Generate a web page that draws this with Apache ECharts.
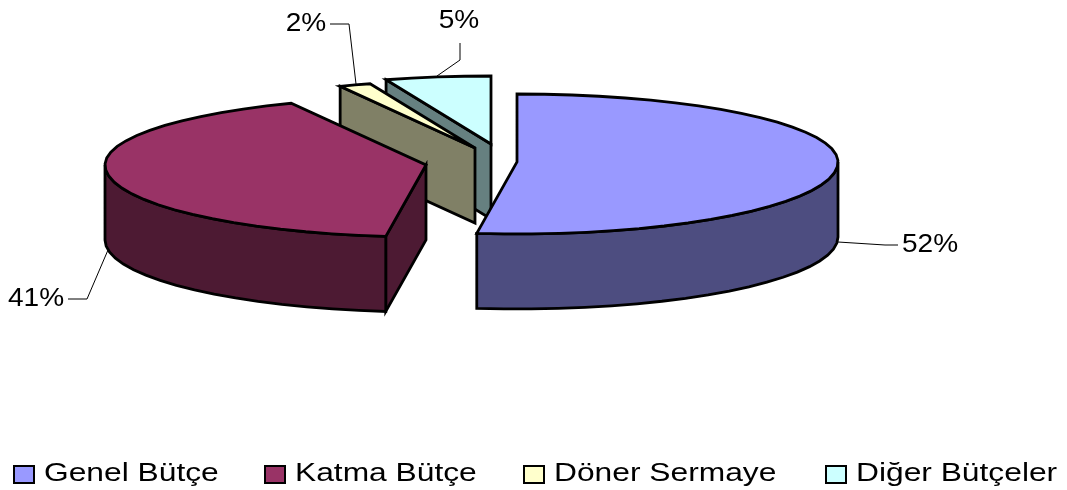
<!DOCTYPE html>
<html><head><meta charset="utf-8">
<style>html,body{margin:0;padding:0;background:#fff}#c{width:1067px;height:490px}</style>
<script src="https://cdn.jsdelivr.net/npm/echarts@6/dist/echarts.min.js"></script>
</head><body><div id="c"></div>
<script>
const categories = ['Genel Bütçe', 'Katma Bütçe', 'Döner Sermaye', 'Diğer Bütçeler'];
const values = [52, 41.1, 1.6, 5.3];
const labels = ['52%', '41%', '2%', '5%'];
const topColors = ['#9999FF', '#993366', '#FFFFCC', '#CCFFFF'];
const sideColors = ['#4D4D80', '#4D1A33', '#808066', '#668080'];
const centersX = [517, 426, 475, 491];
const centersY = [162, 165, 148, 144];
const legendLeft = [13, 264, 523, 825];
const labelPos = [[930, 245], [36, 299], [306, 24], [459, 21]];
const leaders = [
  [[838, 242], [885, 245], [898, 245]],
  [[108, 250], [87, 299], [68, 299]],
  [[356, 84], [349, 24], [330, 24]],
  [[437, 76], [460, 60], [460, 43]]
];
const RX = 321, RY_BACK = 68, RY_FRONT = 72, DEPTH = 75;
const total = values.reduce((a, b) => a + b, 0);
const rim = (cx, cy, deg) => {
  const r = deg * Math.PI / 180, c = Math.cos(r);
  return [cx + RX * Math.sin(r), cy - (c > 0 ? RY_BACK : RY_FRONT) * c];
};
const down = p => [p[0], p[1] + DEPTH];
const stroke = { stroke: '#000', lineWidth: 2.8, lineJoin: 'miter' };

// the reference's text is stretched sideways: widen the glyphs when text is painted
const nativeFillText = CanvasRenderingContext2D.prototype.fillText;
CanvasRenderingContext2D.prototype.fillText = function (text, x, y) {
  const k = this.font.indexOf('25.5px') === 0 ? 1.1 : 1.27;
  this.save();
  this.translate(x, y);
  this.scale(k, 1);
  nativeFillText.call(this, text, 0, 0);
  this.restore();
};

function arcPoints(cx, cy, a0, a1) {
  const pts = [];
  const n = Math.max(2, Math.ceil((a1 - a0) / 5));
  for (let i = 0; i <= n; i++) pts.push(rim(cx, cy, a0 + (a1 - a0) * i / n));
  return pts;
}

function sliceChildren(i) {
  const a0 = values.slice(0, i).reduce((a, b) => a + b, 0) / total * 360;
  const a1 = a0 + values[i] / total * 360;
  const cx = centersX[i], cy = centersY[i];
  const c = [cx, cy];
  const out = [];
  const poly = (points, fill) => out.push({ type: 'polygon', shape: { points }, style: { fill, ...stroke } });
  // flat cut faces that look towards the viewer
  if (a0 > 180) {
    const e = rim(cx, cy, a0);
    poly([c, e, down(e), down(c)], sideColors[i]);
  }
  if (a1 < 180) {
    const e = rim(cx, cy, a1);
    poly([c, e, down(e), down(c)], sideColors[i]);
  }
  // curved outer wall
  const w0 = Math.max(a0, 90), w1 = Math.min(a1, 270);
  if (w1 > w0) {
    const arc = arcPoints(cx, cy, w0, w1);
    poly(arc.concat(arc.map(down).reverse()), sideColors[i]);
  }
  // top face
  poly([c].concat(arcPoints(cx, cy, a0, a1)), topColors[i]);
  return out;
}

function leaderAndLabel(i) {
  return [
    { type: 'polyline', silent: true, shape: { points: leaders[i] }, style: { fill: 'none', stroke: '#000', lineWidth: 1 } },
    { type: 'text', silent: true, style: { text: labels[i], x: labelPos[i][0], y: labelPos[i][1], fill: '#000',
      font: '25.5px "Liberation Sans", Arial, sans-serif', textAlign: 'center', textVerticalAlign: 'middle' } }
  ];
}

// painter's order: rear slices first
const drawOrder = [3, 2, 0, 1];
const series = drawOrder.map(i => ({
  type: 'custom',
  name: categories[i],
  coordinateSystem: 'none',
  silent: true,
  data: [values[i]],
  itemStyle: { color: topColors[i], borderColor: '#000', borderWidth: 2.5 },
  renderItem: () => ({ type: 'group', children: sliceChildren(i).concat(leaderAndLabel(i)) })
}));

const chart = echarts.init(document.getElementById('c'));
chart.setOption({
  animation: false,
  backgroundColor: '#fff',
  legend: categories.map((name, i) => ({
    data: [name],
    left: legendLeft[i], top: 462, padding: 0,
    itemWidth: 20, itemHeight: 17,
    icon: 'rect',
    textStyle: { fontFamily: '"Liberation Sans", Arial, sans-serif', fontSize: 25, color: '#000', padding: [0, 0, 0, 5] }
  })),
  series
});
</script></body></html>
